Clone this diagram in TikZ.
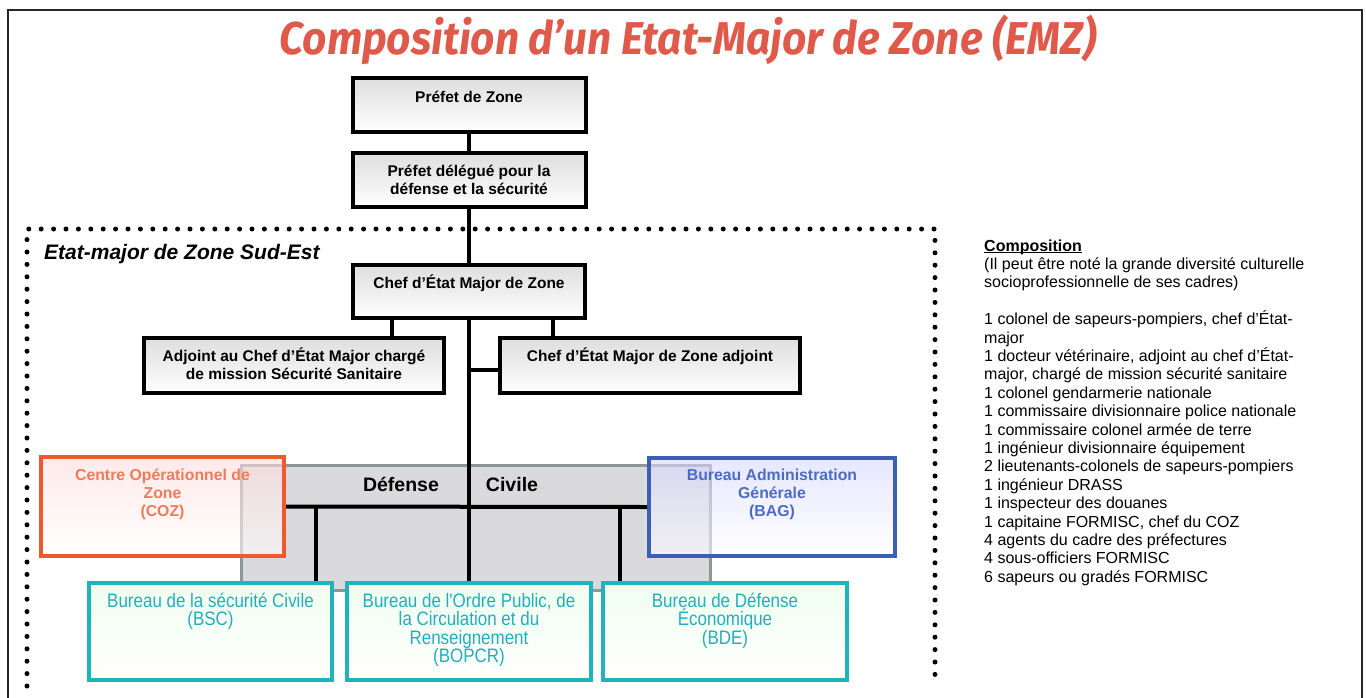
\documentclass[tikz,border=0pt]{standalone}
\usepackage{fontspec}
\usepackage{graphicx}
\setmainfont{Liberation Sans}
\newfontfamily\narrowfont[FakeStretch=0.87]{Liberation Sans}
\newfontfamily\titlefont{Fira Sans}
\definecolor{titlered}{HTML}{E05A4B}
\definecolor{cozred}{HTML}{EE5A2E}
\definecolor{coztext}{HTML}{F07A5A}
\definecolor{bagblue}{HTML}{3A5FB5}
\definecolor{bagtext}{HTML}{4A6CC4}
\definecolor{teal}{HTML}{1EB4BA}
\definecolor{tealtext}{HTML}{24AEBA}
\definecolor{dcfill}{HTML}{DADADD}
\definecolor{dcdraw}{HTML}{8E959B}
\newcommand{\ml}[1]{\vtop{\lineskiplimit=-100pt\let\\\cr\halign{\hfil##\hfil\cr#1\crcr}}}
\newcommand{\mll}[1]{\vtop{\lineskiplimit=-100pt\let\\\cr\halign{##\hfil\cr#1\crcr}}}
\newcommand{\myul}[1]{\setbox0\hbox{#1}\rlap{\rule[-2.2pt]{\wd0}{1.1pt}}\box0}
\tikzset{
  bbox/.style={draw=black, line width=4pt, top color=black!13, bottom color=white, inner sep=0pt},
  btxt/.style={font=\bfseries\fontsize{15.5}{18}\selectfont, anchor=base, inner sep=0pt},
  conn/.style={line width=4pt, draw=black},
  dotframe/.style={line width=5pt, dash pattern=on 0pt off 12.4pt, line cap=round},
  dcbox/.style={draw=dcdraw, line width=3pt, fill=dcfill, inner sep=0pt},
  cozbox/.style={draw=cozred, line width=4pt, top color=red!14, bottom color=white, fill opacity=0.6, inner sep=0pt},
  bagbox/.style={draw=bagblue, line width=4pt, top color=blue!16, bottom color=white, fill opacity=0.6, inner sep=0pt},
  tbox/.style={draw=teal, line width=4pt, top color=green!6, bottom color=white, inner sep=0pt},
  ttxt/.style={font=\narrowfont\fontsize{19.5}{18.5}\selectfont, text=tealtext, anchor=base, inner sep=0pt},
}
\begin{document}
\begin{tikzpicture}[x=1pt,y=-1pt]
\useasboundingbox (0,0) rectangle (1366,697);
% outer frame
\draw[line width=2.5pt, black!85] (8,700) -- (8,10) -- (1362,10) -- (1362,700);
% title
\node[anchor=base, inner sep=0pt, text=titlered] (title) at (688,54)
  {\resizebox{817pt}{\height}{\titlefont\bfseries\itshape\fontsize{46}{50}\selectfont Composition d’un Etat-Major de Zone (EMZ)}};
% dotted frame
\draw[dotframe] (27,686) -- (27,229) -- (935,229) -- (935,686);
\node[anchor=base west, inner sep=0pt, font=\bfseries\itshape\fontsize{21}{24}\selectfont] (sudest) at (44,259) {Etat-major de Zone Sud-Est};
% upper boxes
\node[bbox, minimum width=233pt, minimum height=54pt] (prefet) at (469,105) {};
\node[btxt] (tprefet) at (469,102) {Préfet de Zone};
\node[bbox, minimum width=233pt, minimum height=54pt] (delegue) at (469,180) {};
\node[btxt] (tdelegue) at (469,176) {\ml{Préfet délégué pour la\\défense et la sécurité}};
\node[bbox, minimum width=232pt, minimum height=53pt] (chef) at (469,291.5) {};
\node[btxt] (tchef) at (469,288) {Chef d’État Major de Zone};
\node[bbox, minimum width=300pt, minimum height=55pt] (adjoint) at (294,365.5) {};
\node[btxt] (tadjoint) at (294,361) {\ml{Adjoint au Chef d’État Major chargé\\de mission Sécurité Sanitaire}};
\node[bbox, minimum width=300pt, minimum height=55pt] (cemzadj) at (650,365.5) {};
\node[btxt] (tcemzadj) at (650,361) {Chef d'État Major de Zone adjoint};
\draw[conn] (prefet.south) -- (delegue.north);
\draw[conn] (delegue.south) -- (chef.north);
\coordinate (j1) at (392,318);
\coordinate (j2) at (553,318);
\draw[conn] (chef.south -| j1) -- (adjoint.north -| j1);
\draw[conn] (chef.south -| j2) -- (cemzadj.north -| j2);
% Defense civile box
\node[dcbox, minimum width=469pt, minimum height=125pt] (dc) at (475.5,527.5) {};
\node[anchor=base, inner sep=0pt, font=\bfseries\fontsize{19.5}{22}\selectfont] (tdef) at (401,491) {Défense};
\node[anchor=base, inner sep=0pt, font=\bfseries\fontsize{19.5}{22}\selectfont] (tciv) at (512,491) {Civile};
% bottom boxes
\node[tbox, minimum width=243pt, minimum height=97pt] (bsc) at (210.5,631.5) {};
\node[tbox, minimum width=244pt, minimum height=97pt] (bopcr) at (469,631.5) {};
\node[tbox, minimum width=244pt, minimum height=97pt] (bde) at (725,631.5) {};
\node[ttxt] (tbsc) at (210.5,607) {\ml{Bureau de la sécurité Civile\\(BSC)}};
\node[ttxt] (tbopcr) at (469,607) {\ml{Bureau de l'Ordre Public, de\\la Circulation et du\\Renseignement\\(BOPCR)}};
\node[ttxt] (tbde) at (725,607) {\ml{Bureau de Défense\\Économique\\(BDE)}};
% trunk and branches
\coordinate (h1) at (469,370);
\draw[conn] (chef.south) -- (bopcr.north);
\draw[conn] (h1) -- (h1 -| cemzadj.west);
% COZ and BAG
\node[cozbox, minimum width=243pt, minimum height=99pt] (coz) at (162.5,506.5) {};
\node[anchor=base, inner sep=0pt, text=coztext, font=\bfseries\fontsize{15.8}{18}\selectfont] (tcoz) at (162.5,480) {\ml{Centre Opérationnel de\\Zone\\(COZ)}};
\node[bagbox, minimum width=246pt, minimum height=98pt] (bag) at (772,507) {};
\node[anchor=base, inner sep=0pt, text=bagtext, font=\bfseries\fontsize{15.8}{18}\selectfont] (tbag) at (772,480) {\ml{Bureau Administration\\Générale\\(BAG)}};
\draw[conn] (coz.east) -- (bag.west);
\coordinate (d1) at (316,507);
\coordinate (d2) at (620,507);
\draw[conn] (d1) -- (d1 |- bsc.north);
\draw[conn] (d2) -- (d2 |- bde.north);
% composition text
\node[anchor=base west, inner sep=0pt, font=\fontsize{16}{18.4}\selectfont] (compo) at (984,251) {\mll{\myul{\textbf{Composition}}\\
(Il peut être noté la grande diversité culturelle\\
socioprofessionnelle de ses cadres)\\
\\
1 colonel de sapeurs-pompiers, chef d'État-\\
major\\
1 docteur vétérinaire, adjoint au chef d'État-\\
major, chargé de mission sécurité sanitaire\\
1 colonel gendarmerie nationale\\
1 commissaire divisionnaire police nationale\\
1 commissaire colonel armée de terre\\
1 ingénieur divisionnaire équipement\\
2 lieutenants-colonels de sapeurs-pompiers\\
1 ingénieur DRASS\\
1 inspecteur des douanes\\
1 capitaine FORMISC, chef du COZ\\
4 agents du cadre des préfectures\\
4 sous-officiers FORMISC\\
6 sapeurs ou gradés FORMISC}};
\end{tikzpicture}
\end{document}
